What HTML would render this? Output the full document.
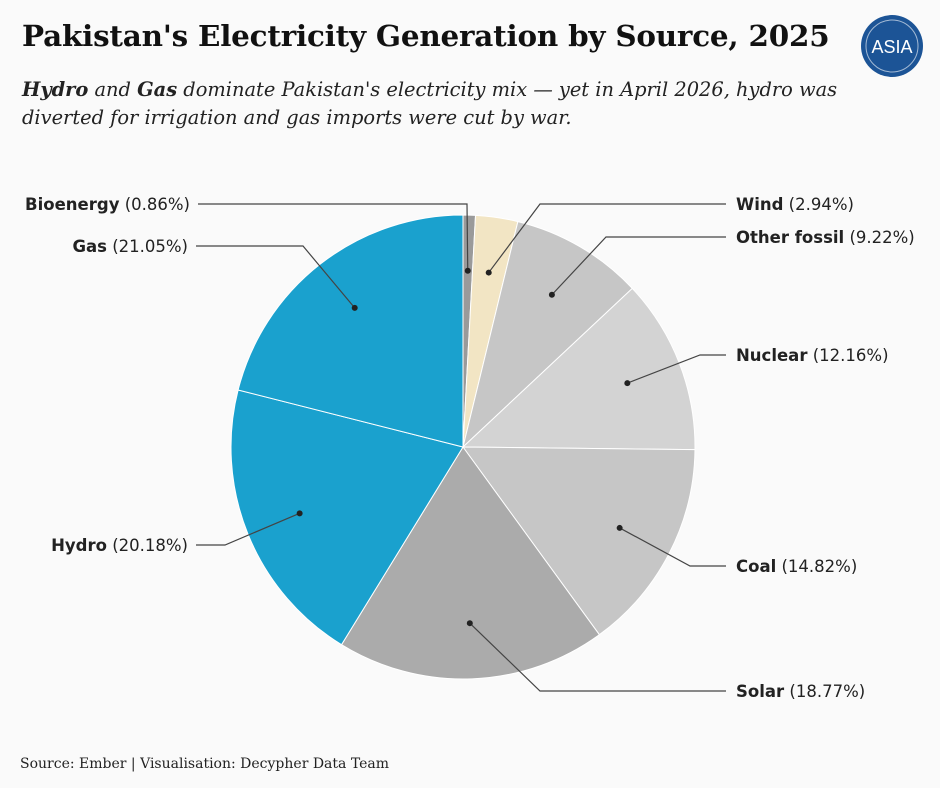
<!DOCTYPE html>
<html><head><meta charset="utf-8"><style>
body{margin:0;background:#fafafa;width:940px;height:788px;overflow:hidden;font-family:"Liberation Sans",sans-serif}
.t{position:absolute;left:22px;top:18px;font:bold 29.4px "DejaVu Serif",serif;color:#111;letter-spacing:-0.2px}
.s{position:absolute;left:22px;top:76px;font:italic 19.4px/28px "DejaVu Serif",serif;color:#222}
.src{position:absolute;left:20px;top:756px;font:14px "DejaVu Serif",serif;color:#222}
</style></head><body>
<div class="t">Pakistan's Electricity Generation by Source, 2025</div>
<div class="s"><b>Hydro</b> and <b>Gas</b> dominate Pakistan's electricity mix — yet in April 2026, hydro was<br>diverted for irrigation and gas imports were cut by war.</div>
<div class="src">Source: Ember | Visualisation: Decypher Data Team</div>
<svg width="940" height="788" style="position:absolute;left:0;top:0">
<g>
<circle cx="892" cy="46" r="31" fill="#1c5496"/><circle cx="892" cy="46" r="26" fill="none" stroke="#fff" stroke-width="1" opacity=".6"/>
<text x="892" y="53" text-anchor="middle" font-family="Liberation Sans" font-size="18" fill="#fff">ASIA</text></g>
<g id="pie"></g><g id="lab"></g>
</svg>
<script>
const categories=["Bioenergy","Wind","Other fossil","Nuclear","Coal","Solar","Hydro","Gas"];
const values=[0.86,2.94,9.22,12.16,14.82,18.77,20.18,21.05];
const colors=["#9a9a9a","#f2e5c4","#c6c6c6","#d3d3d3","#c6c6c6","#ababab","#1aa1ce","#1aa1ce"];
const cx=463,cy=447,R=232;
const elbow=[[467,204],[540,204],[606,237],[700,355],[690,566],[540,691],[225,545],[303,246]];
const textAt=[[190,204,'end'],[736,204,'start'],[736,237,'start'],[736,355,'start'],[736,566,'start'],[736,691,'start'],[188,545,'end'],[188,246,'end']];
const ns="http://www.w3.org/2000/svg";
const pie=document.getElementById('pie'),lab=document.getElementById('lab');
const total=values.reduce((a,b)=>a+b,0);
function pt(a,r){return [cx+r*Math.sin(a),cy-r*Math.cos(a)];}
let a0=0;
values.forEach((v,i)=>{
 const a1=a0+v/total*2*Math.PI;
 const p0=pt(a0,R),p1=pt(a1,R);
 const p=document.createElementNS(ns,'path');
 p.setAttribute('d',`M${cx},${cy}L${p0[0]},${p0[1]}A${R},${R} 0 ${a1-a0>Math.PI?1:0} 1 ${p1[0]},${p1[1]}Z`);
 p.setAttribute('fill',colors[i]);p.setAttribute('stroke','#fff');p.setAttribute('stroke-width','1');
 
 
 pie.appendChild(p);
 const d=pt((a0+a1)/2,R*0.76);
 const e=elbow[i],t=textAt[i];
 const endx=t[2]=='end'?t[0]+8:t[0]-10;
 const l=document.createElementNS(ns,'polyline');
 l.setAttribute('points',`${d[0]},${d[1]} ${e[0]},${e[1]} ${endx},${t[1]}`);
 l.setAttribute('fill','none');l.setAttribute('stroke','#444');l.setAttribute('stroke-width','1.2');
 
 
 lab.appendChild(l);
 const c=document.createElementNS(ns,'circle');
 c.setAttribute('cx',d[0]);c.setAttribute('cy',d[1]);c.setAttribute('r','3');c.setAttribute('fill','#222');
 
 
 lab.appendChild(c);
 const tx=document.createElementNS(ns,'text');
 tx.setAttribute('x',t[0]);tx.setAttribute('y',t[1]+6);tx.setAttribute('text-anchor',t[2]);
 tx.setAttribute('font-family','DejaVu Sans');tx.setAttribute('font-size','16.5');tx.setAttribute('fill','#222');
 tx.innerHTML=`<tspan font-weight="bold">${categories[i]}</tspan> (${v.toFixed(2)}%)`;
 
 
 lab.appendChild(tx);
 a0=a1;
});
</script>
</body></html>
